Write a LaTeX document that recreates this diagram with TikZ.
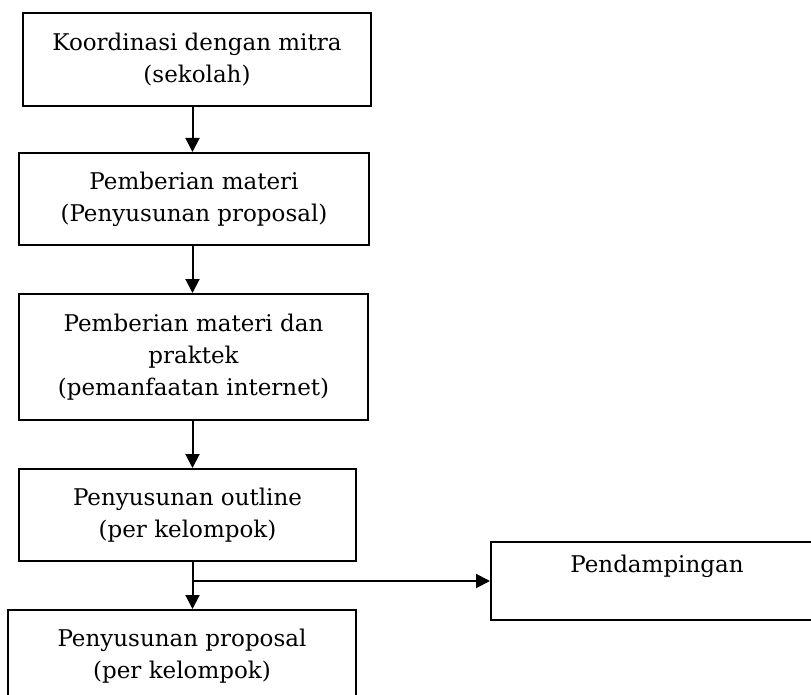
\documentclass[tikz,border=0pt]{standalone}
\usepackage{fontspec}
\setmainfont{DejaVu Serif}
\usetikzlibrary{arrows.meta}

\tikzset{
  box/.style={draw, line width=2pt, align=center, inner sep=0pt,
    font=\fontsize{23}{32}\selectfont},
  arr/.style={line width=2pt, -{Triangle[width=14pt,length=14pt]}}
}

\begin{document}
\begin{tikzpicture}[x=1pt,y=-1pt]
\useasboundingbox (0,0) rectangle (811,695);
\clip (0,0) rectangle (811,695);

\node[box, minimum width=348, minimum height=93] (b1) at (197,59.5) {Koordinasi dengan mitra\\(sekolah)};
\node[box, minimum width=350, minimum height=92] (b2) at (194,199) {Pemberian materi\\(Penyusunan proposal)};
\node[box, minimum width=349, minimum height=126] (b3) at (193.5,357) {Pemberian materi dan\\praktek\\(pemanfaatan internet)};
\node[box, minimum width=337, minimum height=92] (b4) at (187.5,515) {Penyusunan outline\\(per kelompok)};
\node[box, minimum width=348, minimum height=92] (b5) at (182,656) {Penyusunan proposal\\(per kelompok)};
\node[box, minimum width=332, minimum height=78,
  label={[anchor=center, yshift=-25pt, font=\fontsize{23}{32}\selectfont]north:Pendampingan}] (b6) at (657,581) {};

\coordinate (spine) at (192.5,0);

\draw[arr] (b1.south -| spine) -- (b2.north -| spine);
\draw[arr] (b2.south -| spine) -- (b3.north -| spine);
\draw[arr] (b3.south -| spine) -- (b4.north -| spine);
\draw[arr] (b4.south -| spine) -- (b5.north -| spine);
\draw[arr] (b6.west -| spine) -- (b6.west);
\end{tikzpicture}
\end{document}
